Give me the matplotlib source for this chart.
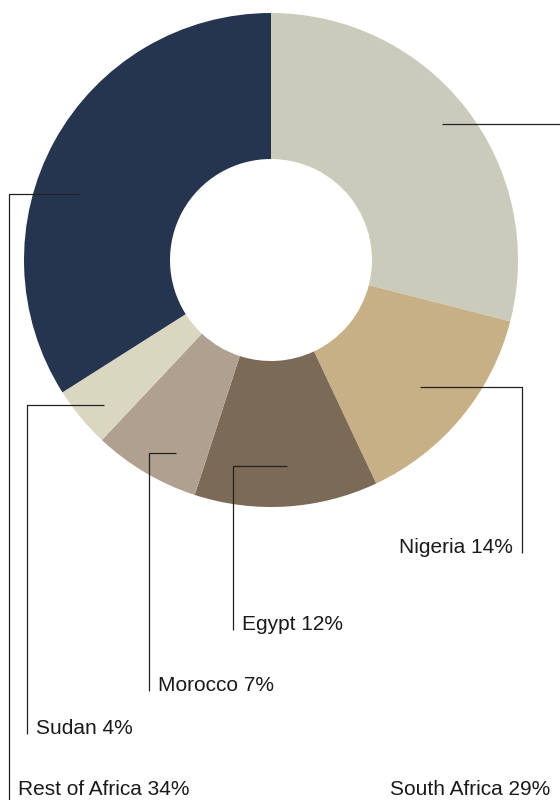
import matplotlib.pyplot as plt

# Share of total by country
countries = ['South Africa', 'Nigeria', 'Egypt', 'Morocco', 'Sudan', 'Rest of Africa']
shares = [29, 14, 12, 7, 4, 34]
colors = ['#cbcbbb', '#c8b086', '#7b6a55', '#afa08f', '#d9d7bf', '#253550']

# Leader line layout in pixel coords (y down): anchor inside wedge,
# elbow x, and bottom of the vertical run (text baseline)
W, H = 560, 800
leaders = {
    'South Africa':   dict(start=(442, 124), vx=566, vy=795, side='left'),
    'Nigeria':        dict(start=(420, 387), vx=522, vy=553, side='left'),
    'Egypt':          dict(start=(287, 466), vx=233, vy=630, side='right'),
    'Morocco':        dict(start=(176, 453), vx=149, vy=691, side='right'),
    'Sudan':          dict(start=(104, 405), vx=27, vy=734, side='right'),
    'Rest of Africa': dict(start=(79, 194), vx=9, vy=795, side='right'),
}
text_x = {'South Africa': 550}

fig = plt.figure(figsize=(W / 100, H / 100), dpi=100)
ax = fig.add_axes([0, 0, 1, 1])

cx, cy = 271, H - 260
r_out, r_in = 247, 101
ax.pie(shares, colors=colors, startangle=90, counterclock=False,
       center=(cx, cy), radius=r_out, frame=True,
       wedgeprops=dict(width=r_out - r_in, linewidth=0))

ax.set_xlim(0, W)
ax.set_ylim(0, H)
ax.set_aspect('equal')
ax.axis('off')

for name, share in zip(countries, shares):
    ld = leaders[name]
    x0, y0 = ld['start']
    vx, vy = ld['vx'], ld['vy']
    # bottom labels: vertical run continues past the canvas edge
    y_end = -10 if vy > 790 else H - vy
    ax.plot([x0, vx, vx], [H - y0, H - y0, y_end],
            color='#222222', lw=0.9, solid_capstyle='butt')
    label = f'{name} {share}%'
    if ld['side'] == 'left':
        tx = text_x.get(name, vx - 9)
        ha = 'right'
    else:
        tx = vx + 9
        ha = 'left'
    ax.text(tx, H - vy, label, ha=ha, va='baseline', fontsize=15,
            family='Liberation Sans', color='#1a1a1a')

fig.savefig('out.png', dpi=100)
